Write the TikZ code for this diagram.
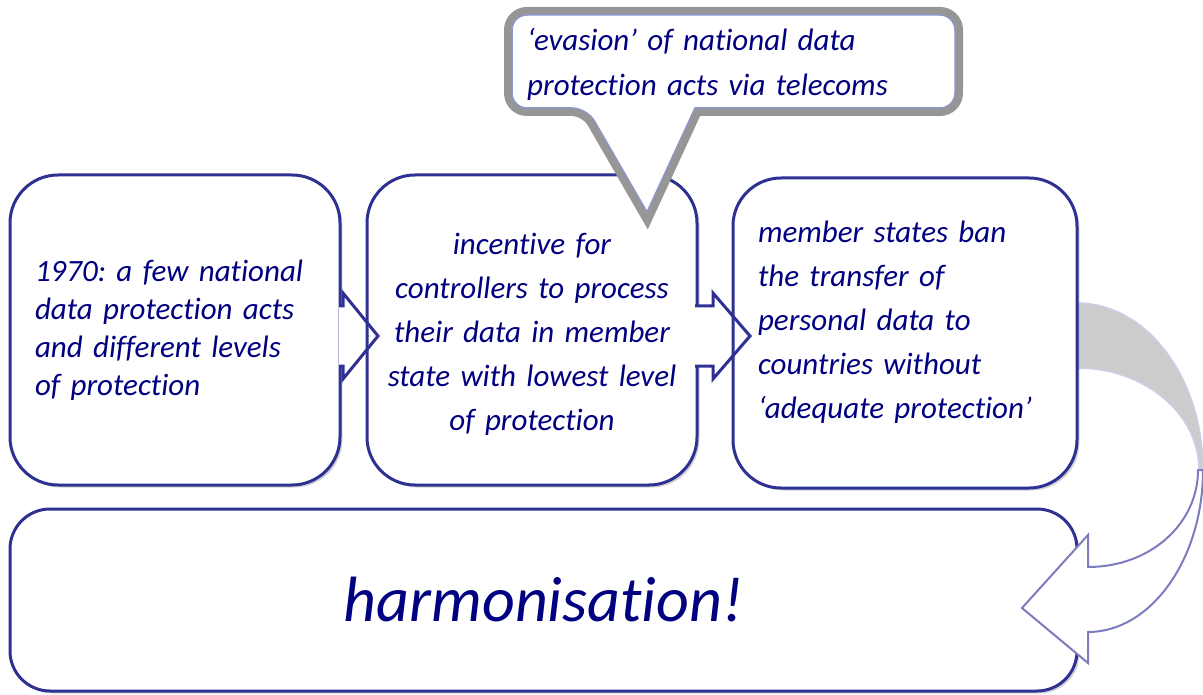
\documentclass[tikz,border=0pt]{standalone}
\usepackage{fontspec}
\setmainfont{Carlito}[Ligatures=NoCommon]
\frenchspacing
\usepackage{tikz}
\usetikzlibrary{shapes.geometric, arrows, shadows}
\definecolor{navy}{RGB}{0,0,128}
\definecolor{boxline}{RGB}{46,49,146}
\definecolor{bendline}{RGB}{124,124,190}
\definecolor{bendback}{RGB}{204,204,204}
\definecolor{bendedge}{RGB}{205,205,232}
\definecolor{glow}{RGB}{150,150,150}
\definecolor{calloutline}{RGB}{140,150,200}
\tikzstyle{stage} = [rectangle, rounded corners=48pt, minimum height=310pt, draw=boxline, line width=3pt, fill=white, text=navy, font=\itshape\fontsize{31}{44}\selectfont, drop shadow={shadow xshift=2.5pt, shadow yshift=-2.5pt, opacity=0.35}]
\tikzstyle{result} = [stage, rounded corners=40pt, minimum width=1067pt, minimum height=182pt, font=\itshape\fontsize{64}{76}\selectfont]
\tikzstyle{chevron} = [draw=boxline, line width=3pt, line join=miter]
\tikzstyle{callout} = [fill=white, draw=calloutline, line width=1.5pt, line join=round, preaction={draw=glow, line width=16pt}]
\tikzstyle{calltext} = [text=navy, font=\itshape\fontsize{31}{45}\selectfont, align=left, text width=420pt, inner sep=0pt]
\tikzstyle{bendface} = [fill=white, draw=bendline, line width=2pt, line join=miter]
\tikzstyle{bendband} = [fill=bendback, draw=bendedge, line width=1.5pt]

\begin{document}
\begin{tikzpicture}[x=1pt, y=-1pt]
	\useasboundingbox (0,0) rectangle (1203,695);
	% grey back of the bent arrow, behind the third box
	\draw [bendband] (1060,303) -- (1077,303) .. controls (1147,303) and (1203,378) .. (1203,470) -- (1199,470) .. controls (1199,414) and (1145,368) .. (1077,368) -- (1060,368) -- cycle;

	\node (early) [stage, align=left, text width=280pt, inner xsep=25pt, font=\itshape\fontsize{31}{38}\selectfont] at (175,330) {1970: a few national\\data protection acts\\and different levels\\of protection};
	\node (incentive) [stage, align=center, text width=300pt, inner xsep=15pt, right of=early, node distance=357pt] {\rule{0pt}{30pt}incentive for\\controllers to process\\their data in member\\state with lowest level\\of protection};
	\node (ban) [stage, align=left, text width=294pt, inner xsep=25pt, right of=incentive, node distance=373pt, yshift=-3pt] {member states ban\\the transfer of\\personal data to\\countries without\\‘adequate protection’\rule[-26pt]{0pt}{0pt}};
	\node (harmonise) [result] at (543.5,600) {harmonisation!};

	% arrows from box to box
	\foreach \xa/\xb/\xc in {339/343/378, 695/713/750}{
		\fill [white] (\xa,306) rectangle (\xb,366);
		\draw [chevron] (\xa,306) -- (\xb,306) -- (\xb,293) -- (\xc,336) -- (\xb,379) -- (\xb,366) -- (\xa,366);
	}

	% callout over the second box
	\coordinate (tip) at (647,212);
	\draw [callout] (tip) -- (695,108) [rounded corners=15pt] -- (955,108) -- (955,15) -- (512,15) -- (512,108) -- (587,108) [sharp corners] -- cycle;
	\node (evasion) [calltext, anchor=north west] at (527,28) {‘evasion’ of national data\\protection acts via telecoms};

	% front of the bent arrow
	\draw [bendface] (1203,470) .. controls (1203,559) and (1151,632) .. (1088,632) -- (1088,663) -- (1022,608) -- (1088,535) -- (1088,567) .. controls (1150,567) and (1198,524) .. (1198,470) -- cycle;
\end{tikzpicture}
\end{document}
